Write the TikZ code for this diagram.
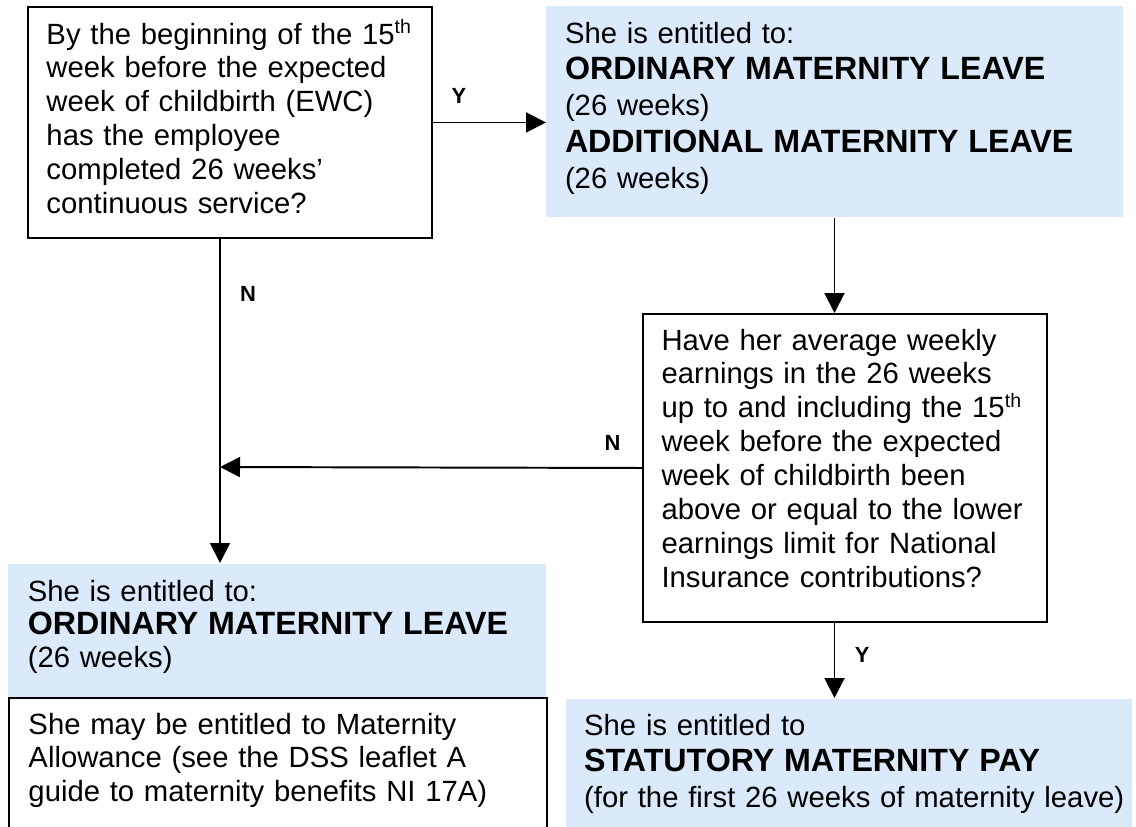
\documentclass[tikz,border=0pt]{standalone}
\usepackage{tikz}
\usepackage{fontspec}
\setmainfont{Liberation Sans}
\usetikzlibrary{arrows.meta,positioning}
\definecolor{paleblue}{RGB}{219,234,251}
\newcommand{\pxu}{0.41pt}
\newcommand{\hilite}[1]{{\fontsize{13.2}{14}\selectfont\bfseries #1}}

\begin{document}
\begin{tikzpicture}[
  x=0.41pt, y=-0.41pt,
  qbox/.style={draw,line width=0.8pt,anchor=north west,inner sep=0pt},
  abox/.style={fill=paleblue,anchor=north west,inner sep=0pt},
  txt/.style={anchor=base west,inner sep=0pt,text width=#1,align=left,
              font=\fontsize{12}{13.9}\selectfont},
  lbl/.style={font=\fontsize{9}{10}\selectfont\bfseries,inner sep=0pt},
  arr/.style={line width=0.8pt,-{Triangle[length=8.2pt,width=8.2pt]}},
]
  \useasboundingbox (0,0) rectangle (1136,826);
  \clip (0,0) rectangle (1136,826);

  % Answer boxes (blue)
  \node[abox,minimum width=576*\pxu,minimum height=211*\pxu] (b1) at (546,6) {};
  \node[abox,minimum width=538*\pxu,minimum height=134*\pxu] (b2) at (8,563) {};
  \node[abox,minimum width=566*\pxu,minimum height=160*\pxu] (b3) at (565,698) {};

  % Question boxes
  \node[qbox,minimum width=404*\pxu,minimum height=231*\pxu] (q1) at (27,6) {};
  \node[qbox,minimum width=404*\pxu,minimum height=308*\pxu] (q2) at (642,313) {};
  \node[qbox,minimum width=538*\pxu,minimum height=160*\pxu] (ma) at (8,697) {};

  % Texts
  \node[txt=165pt] (q1t) at (46,44) {By the beginning of the 15\textsuperscript{th}\\
    week before the expected\\ week of childbirth (EWC)\\ has the employee\\
    completed 26 weeks’\\ continuous service?};
  \node[txt=250pt,font=\fontsize{12}{14.9}\selectfont] (b1t) at (564.5,43)
    {She is entitled to:\\ \hilite{ORDINARY MATERNITY LEAVE}\\ (26 weeks)\\
     \hilite{ADDITIONAL MATERNITY LEAVE}\\ (26 weeks)};
  \node[txt=165pt] (q2t) at (661,350) {Have her average weekly\\
    earnings in the 26 weeks\\ up to and including the 15\textsuperscript{th}\\
    week before the expected\\ week of childbirth been\\ above or equal to the lower\\
    earnings limit for National\\ Insurance contributions?};
  \node[txt=220pt,font=\fontsize{12}{13.7}\selectfont] (b2t) at (27.3,601)
    {She is entitled to:\\ \hilite{ORDINARY MATERNITY LEAVE}\\ (26 weeks)};
  \node[txt=220pt] (mat) at (28,734) {She may be entitled to Maternity\\
    Allowance (see the DSS leaflet A\\ guide to maternity benefits NI 17A)};
  \node[txt=230pt,font=\fontsize{12}{14.8}\selectfont] (b3t) at (583.7,735)
    {She is entitled to\\ \hilite{STATUTORY MATERNITY PAY}\\
     (for the first 26 weeks of maternity leave)};

  % Connectors
  \coordinate (j) at (220,467);
  \draw[arr] (q1.east) -- node[lbl,above=7.2pt,pos=0.23] {Y} (q1.east -| b1.west);
  \draw[arr] (q1.south -| j) -- node[lbl,right=7.8pt,pos=0.24] {N} (j) -- (j |- b2.north);
  \draw[arr] (q2.west) -- node[lbl,above=6.6pt,pos=0.07] {N} (j);
  \draw[arr] (b1.south) -- (b1.south |- q2.north);
  \draw[arr] (b1.south |- q2.south) -- node[lbl,right=8pt,pos=0.42] {Y} (b1.south |- b3.north);
\end{tikzpicture}
\end{document}
